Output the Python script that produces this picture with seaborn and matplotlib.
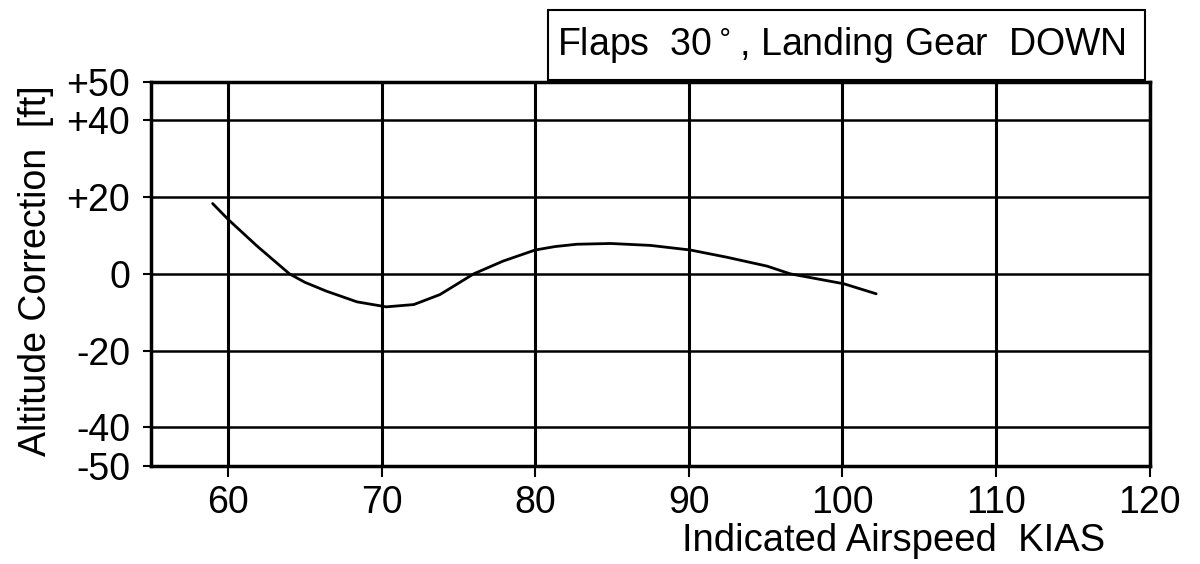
import matplotlib
matplotlib.use("Agg")
import matplotlib.pyplot as plt
from matplotlib.patches import Rectangle
import seaborn as sns
import pandas as pd

# Altitude correction curve, flaps 30 deg, gear down
kias = [59.0, 60.0, 61.9, 64.0, 65.0, 66.4, 68.4, 70.3, 72.1, 73.8, 76.0, 77.9, 80.0,
        81.3, 82.7, 84.9, 87.5, 90.1, 92.5, 95.1, 96.6, 100.1, 102.2]
correction_ft = [18.3, 14.2, 7.2, 0.0, -2.2, -4.5, -7.3, -8.6, -8.0, -5.4, 0.0, 3.3, 6.2,
                 7.1, 7.7, 7.9, 7.4, 6.2, 4.3, 2.0, 0.0, -2.6, -5.2]

x_ticks = [60, 70, 80, 90, 100, 110, 120]
y_ticks = [50, 40, 20, 0, -20, -40, -50]
y_tick_labels = ["+50", "+40", "+20", "0", "-20", "-40", "-50"]

sns.set_theme(style="white")
plt.rcParams["font.family"] = ["Liberation Sans", "DejaVu Sans"]

df = pd.DataFrame({"kias": kias, "corr": correction_ft})

fig = plt.figure(figsize=(12, 5.64), dpi=100)
ax = fig.add_axes([0.126, 0.174, 0.832, 0.681])

sns.lineplot(data=df, x="kias", y="corr", ax=ax, color="black", linewidth=2.0,
             sort=False, zorder=5)

ax.set_xlim(55, 120)
ax.set_ylim(-50, 50)
ax.set_xticks(x_ticks)
ax.set_yticks(y_ticks)
ax.set_yticklabels(y_tick_labels)
ax.tick_params(axis="x", labelsize=27, length=8, width=1.5, color="black",
               direction="out", pad=6, labelcolor="black")
ax.tick_params(axis="y", labelsize=27, length=6, width=1.5, color="black",
               direction="out", pad=9, labelcolor="black")
ax.tick_params(bottom=True, left=True)

for v in x_ticks:
    ax.axvline(v, color="black", linewidth=2.2, zorder=1)
for v in y_ticks:
    ax.axhline(v, color="black", linewidth=1.8, zorder=1)

for side, sp in ax.spines.items():
    sp.set_color("black")
    sp.set_linewidth(2.5)

ax.set_xlabel("")
ax.set_ylabel("")
fig.text(0.030, 0.52, "Altitude Correction  [ft]", rotation=90, fontsize=27,
         ha="center", va="center", color="black")
fig.text(0.921, 0.040, "Indicated Airspeed  KIAS", fontsize=27.5,
         ha="right", va="center", color="black")

# Condition box above the grid
box = Rectangle((548 / 1200, 1 - 80 / 564), (1145 - 548) / 1200, 70 / 564,
                transform=fig.transFigure, facecolor="white", edgecolor="black",
                linewidth=1.5, zorder=10)
fig.patches.append(box)
fig.text(0.701, 1 - 45 / 564, "Flaps  30$^\\circ$, Landing Gear  DOWN",
         fontsize=27, ha="center", va="center", color="black", zorder=11)

fig.savefig("out.png", dpi=100, facecolor="white")
